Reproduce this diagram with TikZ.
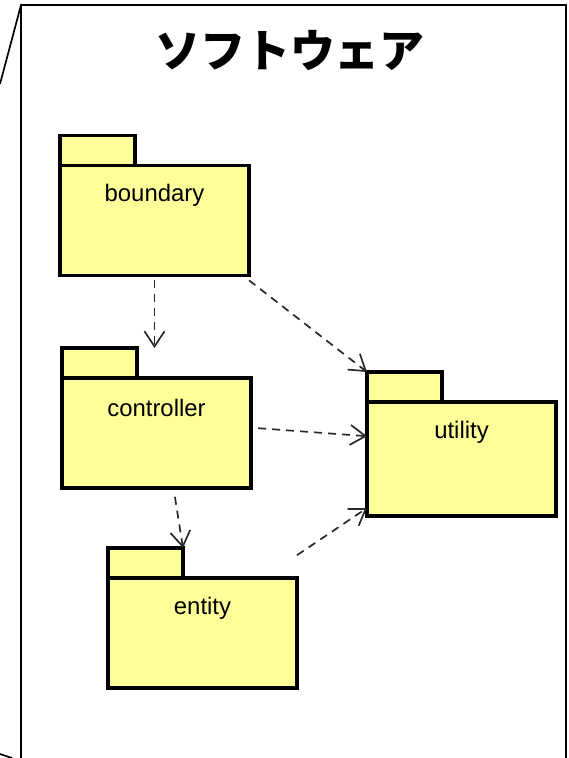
\documentclass[tikz,border=0pt]{standalone}
\usepackage{fontspec}
\setmainfont{Liberation Sans}
\newfontfamily\jpfont{Noto Sans CJK JP}
\usepackage{xcolor}
\usepackage{tikz}
\usetikzlibrary{arrows.meta}
\definecolor{pkgyellow}{RGB}{255,255,153}
\definecolor{depgray}{RGB}{40,40,40}

\begin{document}
\begin{tikzpicture}[x=0.025cm, y=-0.025cm,
        pkgbody/.style={draw, line width=2.6pt, fill=pkgyellow, inner sep=0pt, outer sep=0pt,
            minimum width=4.725cm, minimum height=2.75cm},
        pkgtab/.style={draw, line width=2.6pt, fill=pkgyellow, inner sep=0pt, outer sep=0pt,
            minimum width=1.875cm, minimum height=0.75cm, anchor=south west},
        pkgtext/.style={font=\fontsize{17}{19}\selectfont},
        dep/.style={depgray, line width=1.2pt, dash pattern=on 0.2cm off 0.15cm,
            -{Straight Barb[length=0.38cm, width=0.5cm, line width=1.2pt]}}]
        \useasboundingbox (0,0) rectangle (569,758);

        \draw[line width=1.4pt] (21,758) -- (21,5) -- (566,5);
        \draw[line width=2pt] (566,4) -- (566,758);
        \draw[line width=1.2pt] (21,5) -- (0,84);
        \draw[line width=1.2pt] (0,754) -- (12,758);
        \node[font=\jpfont\bfseries\fontsize{32}{36}\selectfont] (title) at (290,50) {ソフトウェア};

        \node[pkgbody] (boundary) at (154.5,220.5) {};
        \node[pkgtab] (boundarytab) at (boundary.north west) {};
        \node[pkgtext] (boundarytxt) at ([yshift=-0.75cm]boundary.north) {boundary};

        \node[pkgbody] (controller) at (156.5,433) {};
        \node[pkgtab] (controllertab) at (controller.north west) {};
        \node[pkgtext] (controllertxt) at ([yshift=-0.75cm]controller.north) {controller};

        \node[pkgbody, minimum height=2.85cm] (utility) at (461.5,459) {};
        \node[pkgtab] (utilitytab) at (utility.north west) {};
        \node[pkgtext] (utilitytxt) at ([yshift=-0.75cm]utility.north) {utility};

        \node[pkgbody] (entity) at (202.5,633) {};
        \node[pkgtab] (entitytab) at (entity.north west) {};
        \node[pkgtext] (entitytxt) at ([yshift=-0.75cm]entity.north) {entity};

        \draw[dep] ([yshift=-0.1cm]boundary.south) -- (boundary.south |- controllertab.north);
        \draw[dep] ([yshift=-0.12cm]boundary.south east) -- (utilitytab.north west);
        \draw[dep] ([xshift=0.18cm,yshift=0.12cm]controller.east) -- ([yshift=0.57cm]utility.west);
        \draw[dep] ([xshift=0.46cm,yshift=-0.22cm]controller.south) -- (entitytab.north east);
        \draw[dep] ([yshift=0.57cm]entity.north east) -- ([yshift=0.2cm]utility.south west);
\end{tikzpicture}
\end{document}
